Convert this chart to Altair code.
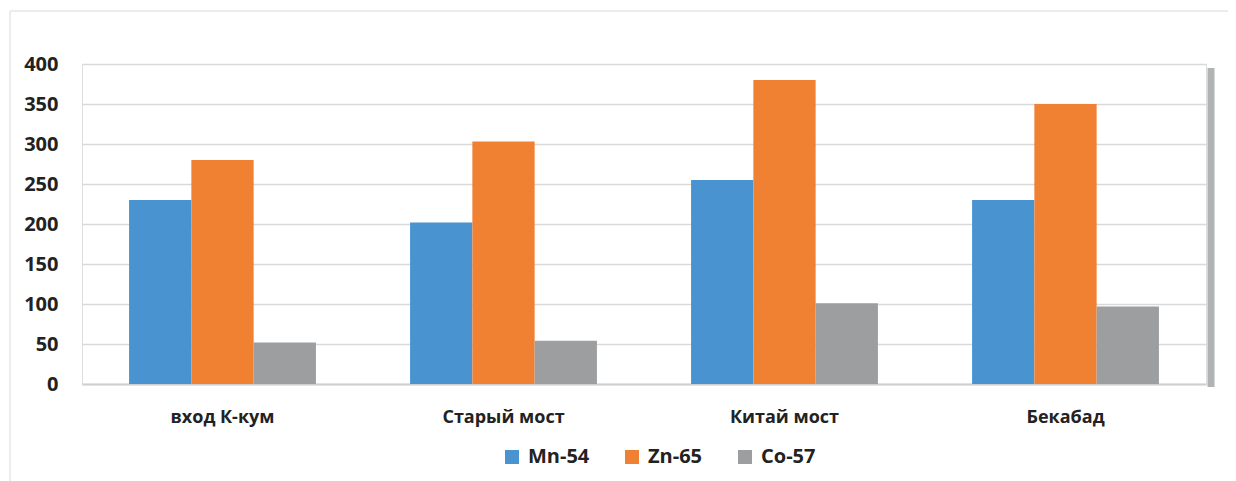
import altair as alt
import pandas as pd

categories = ["вход К-кум", "Старый мост", "Китай мост", "Бекабад"]
series = ["Mn-54", "Zn-65", "Co-57"]
mn54 = [230, 202, 255, 230]
zn65 = [280, 303, 380, 350]
co57 = [52, 54, 101, 97]
colors = ["#4A93D1", "#F08133", "#9C9E9F"]

rows = []
for i, c in enumerate(categories):
    for s, vals in zip(series, [mn54, zn65, co57]):
        rows.append({"cat": c, "series": s, "value": vals[i]})
df = pd.DataFrame(rows)

W, H = 1124, 320
font = "Open Sans"

bars = alt.Chart(df).mark_bar().encode(
    x=alt.X("cat:N", sort=categories, title=None,
            scale=alt.Scale(paddingInner=0.335, paddingOuter=0.1675),
            axis=alt.Axis(labelAngle=0, labelFontSize=18, labelFontWeight="bold",
                          labelColor="#222222", labelFont=font, ticks=False,
                          domain=True, domainColor="#cfcfcf", domainWidth=2,
                          labelPadding=24)),
    xOffset=alt.XOffset("series:N", sort=series, scale=alt.Scale(paddingInner=0, paddingOuter=0)),
    y=alt.Y("value:Q", title=None,
            scale=alt.Scale(domain=[0, 400]),
            axis=alt.Axis(values=list(range(0, 401, 50)), labelFontSize=20,
                          labelFontWeight="bold", labelColor="#222222", labelFont=font,
                          ticks=False, domain=False, gridColor="#d9d9d9", gridWidth=1.5,
                          labelPadding=24)),
    color=alt.Color("series:N", sort=series,
                    scale=alt.Scale(domain=series, range=colors),
                    legend=alt.Legend(orient="none", legendX=420, legendY=383,
                                      direction="horizontal", title=None,
                                      symbolType="square", symbolSize=196,
                                      symbolStrokeWidth=0,
                                      labelFontSize=20, labelFontWeight="bold",
                                      labelColor="#222222", labelFont=font,
                                      columnPadding=32, labelOffset=6)),
)

deco = pd.DataFrame({"k": [0]})
shadow = alt.Chart(deco).mark_rule(
    color="#8f9193", strokeWidth=7, opacity=0.7
).encode(x=alt.value(W + 5), y=alt.value(4), y2=alt.value(H + 3))

frame_top = alt.Chart(deco).mark_rule(color="#e6e6e6", strokeWidth=1.5).encode(
    x=alt.value(-72), x2=alt.value(W + 40), y=alt.value(-53))
frame_left = alt.Chart(deco).mark_rule(color="#e6e6e6", strokeWidth=1.5).encode(
    x=alt.value(-72), y=alt.value(-53), y2=alt.value(H + 120))

chart = alt.layer(frame_top, frame_left, bars, shadow).properties(
    width=W, height=H,
    autosize=alt.AutoSizeParams(type="none"),
    padding={"left": 74, "top": 56, "right": 22, "bottom": 100},
).configure_view(stroke=None).configure(background="white")

chart.save("out.html", embed_options={"renderer": "svg", "actions": False})
